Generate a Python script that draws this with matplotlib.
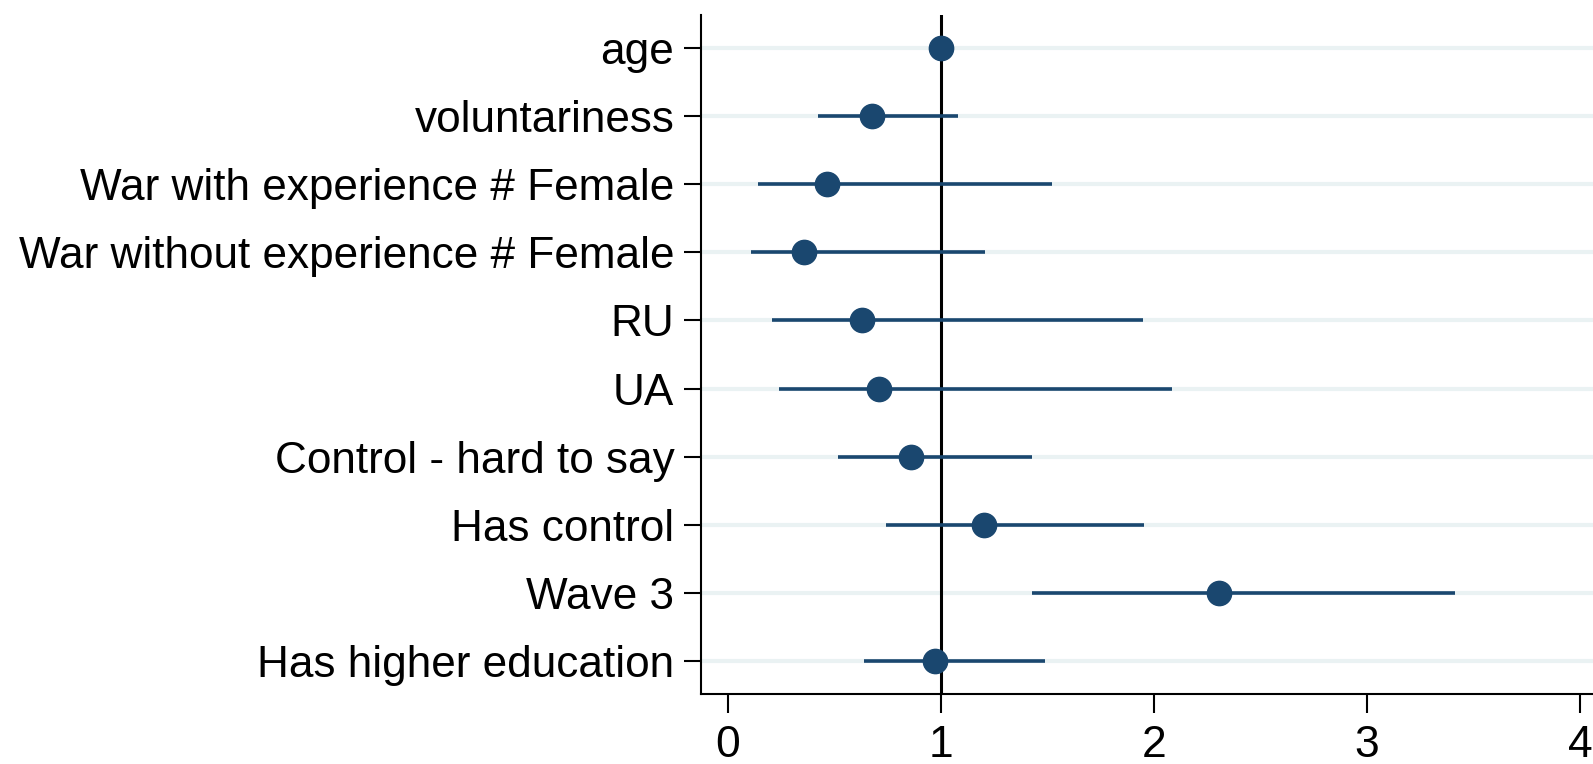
"""
Coefficient plot (odds ratios with confidence intervals), Stata coefplot look.
"""

import matplotlib
matplotlib.use("Agg")
import matplotlib.pyplot as plt
import numpy as np

# ---------------------------------------------------------------------------
# Data
# ---------------------------------------------------------------------------

labels = [
    "age",
    "voluntariness",
    "War with experience # Female",
    "War without experience # Female",
    "RU",
    "UA",
    "Control - hard to say",
    "Has control",
    "Wave 3",
    "Has higher education",
]
estimates = [1.00, 0.677, 0.467, 0.357, 0.628, 0.707, 0.857, 1.200, 2.307, 0.971]
ci_low    = [0.99, 0.424, 0.143, 0.110, 0.205, 0.241, 0.514, 0.743, 1.429, 0.638]
ci_high   = [1.01, 1.078, 1.519, 1.205, 1.947, 2.086, 1.429, 1.952, 3.414, 1.486]
x_ticks   = [0, 1, 2, 3, 4]

# ---------------------------------------------------------------------------
# Style
# ---------------------------------------------------------------------------

NAVY = "#1a476f"
GRID = "#eaf2f3"
FONT = "Liberation Sans"

plt.rcParams["font.family"] = [FONT, "DejaVu Sans"]

fig = plt.figure(figsize=(15.93, 7.64), dpi=100)
ax = fig.add_axes([0.4399, 0.0916, 0.5601, 0.8888])

y = np.arange(1, len(labels) + 1)

for yi in y:
    ax.axhline(yi, color=GRID, linewidth=3, zorder=0)

ax.axvline(1.0, color="black", linewidth=2.2, zorder=1)

ax.hlines(y, ci_low, ci_high, color=NAVY, linewidth=2.6, zorder=2)
ax.plot(estimates, y, "o", color=NAVY, markersize=17.5, zorder=3)

ax.set_xlim(-0.128, 4.061)
ax.set_ylim(len(labels) + 0.48, 0.52)

ax.set_yticks(y)
ax.set_yticklabels(labels)
ax.set_xticks(x_ticks)
ax.set_xticklabels([str(t) for t in x_ticks])

ax.tick_params(axis="y", length=12, width=1.5, pad=7, labelsize=31.8)
ax.tick_params(axis="x", length=13.5, width=1.5, pad=9, labelsize=32)

for side in ("top", "right"):
    ax.spines[side].set_visible(False)
for side in ("left", "bottom"):
    ax.spines[side].set_linewidth(1.5)

fig.savefig("out.png", dpi=100)
